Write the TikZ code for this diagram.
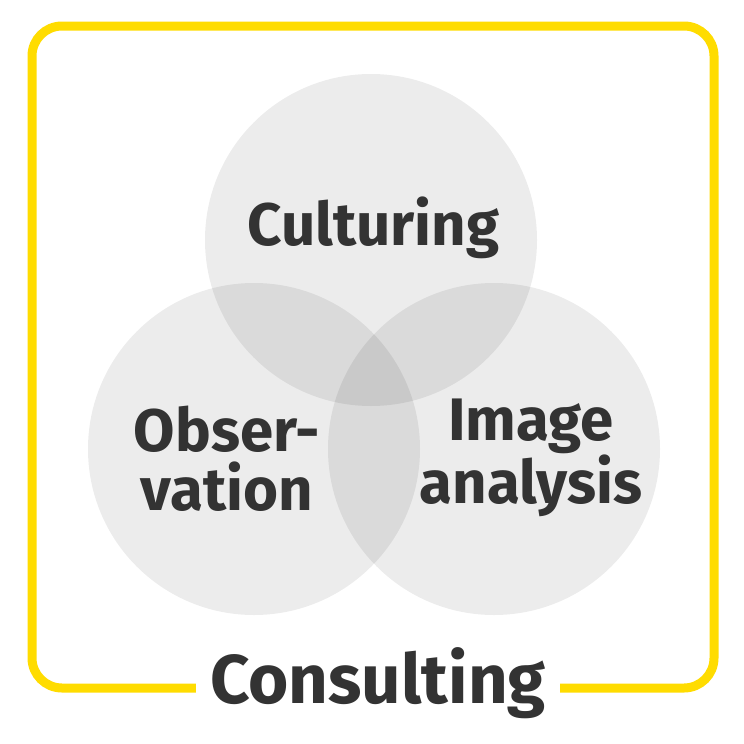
\documentclass[tikz,border=0pt]{standalone}
\usepackage{fontspec}
\setmainfont{Fira Sans}
\definecolor{yline}{HTML}{FFDC00}
\definecolor{txtgray}{HTML}{333333}
\begin{document}
\begin{tikzpicture}[x=1pt,y=-1pt,
  venn/.style={fill=black,fill opacity=0.075,draw=none},
  lbl/.style={text=txtgray,font=\bfseries\fontsize{60}{59}\selectfont,align=center,inner sep=0pt,anchor=base}]
\useasboundingbox[fill=white] (0,0) rectangle (744,744);
\draw[draw=yline,line width=9pt,rounded corners=30pt] (32,26) rectangle (714,688);
\fill[venn] (371,240) circle[radius=166];
\fill[venn] (254,449) circle[radius=166];
\fill[venn] (494,449) circle[radius=166];
\node[lbl] (cult) at (373.5,245) {Culturing};
\node[lbl] (obs) at (227,510) {Obser-\\vation};
\node[lbl] (img) at (531,503) {Image\\analysis};
\node[lbl,font=\bfseries\fontsize{69}{72}\selectfont,fill=white,inner xsep=14pt,inner ysep=4pt] (cons) at (378,703) {Consulting};
\end{tikzpicture}
\end{document}
